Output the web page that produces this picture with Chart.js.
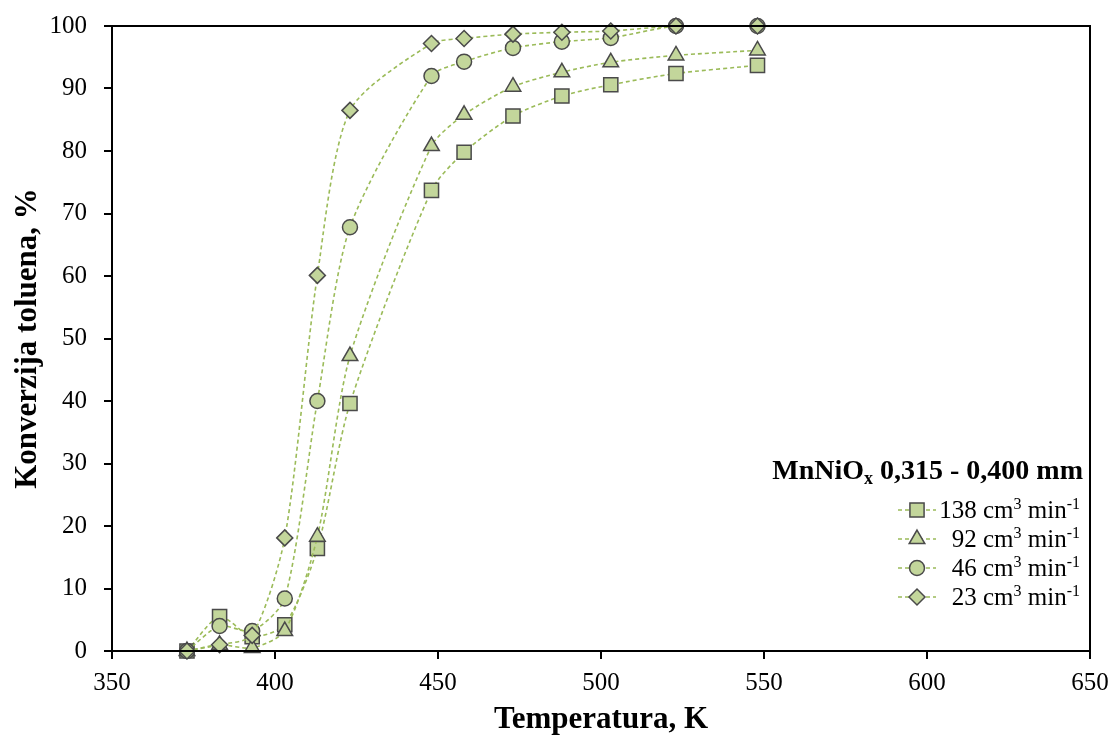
<!DOCTYPE html>
<html>
<head>
<meta charset="utf-8">
<script src="https://cdn.jsdelivr.net/npm/chart.js@4"></script>
<style>
  html, body { margin: 0; padding: 0; background: #fff; }
  #wrap { width: 1113px; height: 736px; position: relative; }
</style>
</head>
<body>
<div id="wrap"><canvas id="conv"></canvas></div>
<script>
// Temperature (K) and toluene conversion (%) for each flow rate
const temps = [373, 383, 393, 403, 413, 423, 448, 458, 473, 488, 503, 523, 548];
const flowRates = [138, 92, 46, 23];
const conv138 = [0, 5.5, 2.3, 4.2, 16.4, 39.6, 73.7, 79.8, 85.6, 88.8, 90.6, 92.4, 93.7];
const conv92 = [0, 1.0, 0.5, 3.2, 18.3, 47.2, 80.8, 85.8, 90.3, 92.6, 94.2, 95.3, 96.1];
const conv46 = [0, 4.0, 3.2, 8.4, 40.0, 67.8, 92.0, 94.3, 96.5, 97.5, 98.1, 100, 100];
const conv23 = [0, 1.0, 2.5, 18.1, 60.1, 86.5, 97.2, 98.0, 98.7, 99.0, 99.2, 100, 100];
const markers = ['rect', 'triangle', 'circle', 'rectRot'];
const markerSize = { rect: 10, triangle: 9, circle: 7.5, rectRot: 8 };
const xTicks = [350, 400, 450, 500, 550, 600, 650];
const legendTitle = 'MnNiO';

const FILL = '#c3d69b';
const EDGE = '#4a4a4a';
const LINE = '#9bbb59';
const FONT = '"Liberation Serif", "Times New Roman", serif';

function series(values, i) {
    return {
        label: flowRates[i] + ' cm3 min-1',
        data: temps.map((t, k) => ({ x: t, y: values[k] })),
        borderColor: LINE,
        borderWidth: 1.6,
        borderDash: [4, 3],
        tension: 0.25,
        pointStyle: markers[i],
        pointRadius: markerSize[markers[i]],
        pointBackgroundColor: FILL,
        pointBorderColor: EDGE,
        pointBorderWidth: 1.5,
        clip: false,
        order: 4 - i
    };
}

// frame around the plot + legend with sub/superscripts
const framePlugin = {
    id: 'frame',
    afterDraw(chart) {
        const { ctx, chartArea: a } = chart;
        ctx.save();
        ctx.strokeStyle = '#000';
        ctx.lineWidth = 2;
        ctx.strokeRect(a.left, a.top, a.right - a.left, a.bottom - a.top);

        // legend title
        const right = 1083;
        ctx.fillStyle = '#000';
        ctx.textBaseline = 'alphabetic';
        const rest = ' 0,315 - 0,400 mm';
        ctx.font = 'bold 28px ' + FONT;
        const wRest = ctx.measureText(rest).width;
        const wMain = ctx.measureText(legendTitle).width;
        ctx.font = 'bold 18px ' + FONT;
        const wSub = ctx.measureText('x').width;
        let x = right - wRest - wSub - wMain;
        const ty = 479;
        ctx.font = 'bold 28px ' + FONT;
        ctx.fillText(legendTitle, x, ty);
        x += wMain;
        ctx.font = 'bold 18px ' + FONT;
        ctx.fillText('x', x, ty + 5);
        x += wSub;
        ctx.font = 'bold 28px ' + FONT;
        ctx.fillText(rest, x, ty);

        // legend items
        chart.data.datasets.forEach((ds, i) => {
            const cy = 510 + i * 29;
            ctx.save();
            ctx.strokeStyle = LINE;
            ctx.lineWidth = 1.6;
            ctx.setLineDash([4, 3]);
            ctx.beginPath();
            ctx.moveTo(898, cy);
            ctx.lineTo(936, cy);
            ctx.stroke();
            ctx.restore();
            ctx.save();
            ctx.fillStyle = FILL;
            ctx.strokeStyle = EDGE;
            ctx.lineWidth = 1.5;
            Chart.helpers.drawPoint(ctx, {
                pointStyle: ds.pointStyle,
                radius: markerSize[ds.pointStyle],
                rotation: 0,
                borderWidth: 1.5
            }, 917, cy);
            ctx.restore();

            const parts = [
                [String(flowRates[i]) + ' cm', 0],
                ['3', 1],
                [' min', 0],
                ['-1', 1]
            ];
            let tw = 0;
            parts.forEach(p => {
                ctx.font = (p[1] ? '16px ' : '25px ') + FONT;
                tw += ctx.measureText(p[0]).width;
            });
            let tx = 1080 - tw;
            const by = cy + 8;
            parts.forEach(p => {
                ctx.font = (p[1] ? '16px ' : '25px ') + FONT;
                ctx.fillText(p[0], tx, p[1] ? by - 9 : by);
                tx += ctx.measureText(p[0]).width;
            });
        });
        ctx.restore();
    }
};

new Chart(document.getElementById('conv'), {
    type: 'line',
    data: {
        datasets: [series(conv138, 0), series(conv92, 1), series(conv46, 2), series(conv23, 3)]
    },
    options: {
        responsive: true,
        maintainAspectRatio: false,
        animation: false,
        layout: { padding: { top: 26, right: 23, left: 9, bottom: 0 } },
        plugins: { legend: { display: false }, tooltip: { enabled: false } },
        scales: {
            x: {
                type: 'linear',
                min: 350,
                max: 650,
                afterBuildTicks: (s) => { s.ticks = xTicks.map(v => ({ value: v })); },
                afterFit: (s) => { s.height = 85; s.paddingLeft = 0; s.paddingRight = 0; },
                border: { color: '#000', width: 2 },
                grid: { drawOnChartArea: false, drawTicks: true, tickLength: 8, color: '#000', lineWidth: 2 },
                ticks: { color: '#000', font: { family: FONT, size: 25 }, padding: 9, maxRotation: 0 },
                title: { display: true, text: 'Temperatura, K', color: '#000', font: { family: FONT, size: 31, weight: 'bold' }, padding: { top: 0, bottom: -3 } }
            },
            y: {
                min: 0,
                max: 100,
                ticks: { stepSize: 10, color: '#000', font: { family: FONT, size: 25 }, padding: 17 },
                afterFit: (s) => { s.width = 103; s.paddingTop = 0; s.paddingBottom = 0; },
                border: { color: '#000', width: 2 },
                grid: { drawOnChartArea: false, drawTicks: true, tickLength: 8, color: '#000', lineWidth: 2 },
                title: { display: true, text: 'Konverzija toluena, %', color: '#000', font: { family: FONT, size: 31, weight: 'bold' }, padding: { top: 0, bottom: 0 } }
            }
        }
    },
    plugins: [framePlugin]
});
</script>
</body>
</html>
